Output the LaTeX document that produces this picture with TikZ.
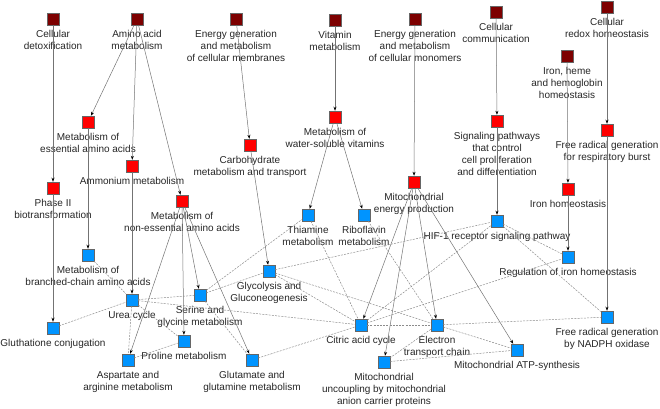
\documentclass[tikz,border=0pt]{standalone}
\usepackage{fontspec}
\setmainfont{Liberation Sans}
\usetikzlibrary{arrows.meta}
\definecolor{rootred}{RGB}{125,0,0}
\definecolor{groupred}{RGB}{255,0,0}
\definecolor{leafblue}{RGB}{0,148,255}
\begin{document}
\begin{tikzpicture}[x=1bp,y=-1bp,
  sq/.style={draw=black!60, line width=0.5bp, minimum size=12bp, inner sep=0pt},
  rootbox/.style={sq, fill=rootred},
  groupbox/.style={sq, fill=groupred},
  leafbox/.style={sq, fill=leafblue},
  every label/.style={align=center, inner sep=1bp, text=black!85, font=\fontsize{10bp}{12bp}\selectfont},
  label distance=3.5bp,
  isa/.style={draw=black!55, line width=0.5bp, -{Stealth[length=4bp,width=3bp,black]}},
  rel/.style={draw=black!45, line width=0.5bp, dash pattern=on 2bp off 1.2bp}]
\useasboundingbox (0,0) rectangle (660,408);
\node[rootbox, label=below:{Cellular\\detoxification}] (detox) at (53,19) {};
\node[rootbox, label=below:{Amino acid\\metabolism}] (amino) at (137,19) {};
\node[rootbox, label=below:{Energy generation\\and metabolism\\of cellular membranes}] (membr) at (236,19) {};
\node[rootbox, label=below:{Vitamin\\metabolism}] (vitam) at (335,20) {};
\node[rootbox, label=below:{Energy generation\\and metabolism\\of cellular monomers}] (monom) at (415,19) {};
\node[rootbox, label=below:{Cellular\\communication}] (commu) at (496,12) {};
\node[rootbox, label=below:{Cellular\\redox homeostasis}] (redox) at (607,7) {};
\node[rootbox, label=below:{Iron, heme\\and hemoglobin\\homeostasis}] (ironh) at (567,56) {};
\node[groupbox, label=below:{Metabolism of\\essential amino acids}] (essen) at (88,122) {};
\node[groupbox, label=below:{Phase II\\biotransformation}] (phase) at (53,188) {};
\node[groupbox, label=below:{Ammonium metabolism}] (ammon) at (132,166) {};
\node[groupbox, label=below:{Carbohydrate\\metabolism and transport}] (carbo) at (250,145) {};
\node[groupbox, label=below:{Metabolism of\\water-soluble vitamins}] (water) at (335,117) {};
\node[groupbox, label=below:{Mitochondrial\\energy production}] (mitoe) at (414,182) {};
\node[groupbox, label=below:{Signaling pathways\\that control\\cell proliferation\\and differentiation}] (signa) at (497,121) {};
\node[groupbox, label=below:{Free radical generation\\for respiratory burst}] (fresp) at (607,130) {};
\node[groupbox, label=below:{Iron homeostasis}] (ironm) at (568,189) {};
\node[groupbox, label=below:{Metabolism of\\non-essential amino acids}] (nones) at (182,201) {};
\node[leafbox, label=below:{Metabolism of\\branched-chain amino acids}] (branc) at (88,255) {};
\node[leafbox, label=below:{Thiamine\\metabolism}] (thiam) at (308,215) {};
\node[leafbox, label=below:{Riboflavin\\metabolism}] (ribof) at (364,215) {};
\node[leafbox, label=below:{HIF-1 receptor signaling pathway}] (hif) at (497,221) {};
\node[leafbox, label=below:{Glycolysis and\\Gluconeogenesis}] (glyco) at (269,271) {};
\node[leafbox, label=below:{Regulation of iron homeostasis}] (regir) at (568,257) {};
\node[leafbox, label=below:{Urea cycle}] (urea) at (132,300) {};
\node[leafbox, label=below:{Serine and\\glycine metabolism}] (serin) at (200,295) {};
\node[leafbox, label=below:{Gluthatione conjugation}] (gluth) at (53,328) {};
\node[leafbox, label=below:{Proline metabolism}] (proli) at (184,341) {};
\node[leafbox, label=below:{Citric acid cycle}] (citri) at (361,325) {};
\node[leafbox, label=below:{Electron\\transport chain}] (elect) at (437,325) {};
\node[leafbox, label=below:{Free radical generation\\by NADPH oxidase}] (nadph) at (607,317) {};
\node[leafbox, label=below:{Aspartate and\\arginine metabolism}] (aspar) at (128,360) {};
\node[leafbox, label=below:{Glutamate and\\glutamine metabolism}] (gluta) at (252,360) {};
\node[leafbox, label=below:{Mitochondrial\\uncoupling by mitochondrial\\anion carrier proteins}] (uncou) at (384,362) {};
\node[leafbox, label=below:{Mitochondrial ATP-synthesis}] (atpsy) at (517,350) {};
\draw[isa] (detox) -- (phase);
\draw[isa] (phase) -- (gluth);
\draw[isa] (amino) -- (essen);
\draw[isa] (amino) -- (ammon);
\draw[isa] (amino) -- (nones);
\draw[isa] (essen) -- (branc);
\draw[isa] (ammon) -- (urea);
\draw[isa] (nones) -- (aspar);
\draw[isa] (nones) -- (proli);
\draw[isa] (nones) -- (serin);
\draw[isa] (nones) -- (gluta);
\draw[isa] (membr) -- (carbo);
\draw[isa] (carbo) -- (glyco);
\draw[isa] (vitam) -- (water);
\draw[isa] (water) -- (thiam);
\draw[isa] (water) -- (ribof);
\draw[isa] (monom) -- (mitoe);
\draw[isa] (mitoe) -- (citri);
\draw[isa] (mitoe) -- (elect);
\draw[isa] (mitoe) -- (uncou);
\draw[isa] (mitoe) -- (atpsy);
\draw[isa] (commu) -- (signa);
\draw[isa] (signa) -- (hif);
\draw[isa] (ironh) -- (ironm);
\draw[isa] (ironm) -- (regir);
\draw[isa] (redox) -- (fresp);
\draw[isa] (fresp) -- (nadph);
\draw[rel] (branc) -- (urea);
\draw[rel] (gluth) -- (urea);
\draw[rel] (urea) -- (aspar);
\draw[rel] (urea) -- (proli);
\draw[rel] (urea) -- (serin);
\draw[rel] (urea) -- (citri);
\draw[rel] (aspar) -- (proli);
\draw[rel] (serin) -- (glyco);
\draw[rel] (serin) -- (thiam);
\draw[rel] (serin) -- (gluta);
\draw[rel] (thiam) -- (citri);
\draw[rel] (ribof) -- (elect);
\draw[rel] (glyco) -- (citri);
\draw[rel] (glyco) -- (elect);
\draw[rel] (glyco) -- (hif);
\draw[rel] (gluta) -- (citri);
\draw[rel] (citri) -- (elect);
\draw[rel] (citri) -- (hif);
\draw[rel] (citri) -- (regir);
\draw[rel] (hif) -- (regir);
\draw[rel] (hif) -- (nadph);
\draw[rel] (elect) -- (nadph);
\draw[rel] (elect) -- (atpsy);
\draw[rel] (elect) -- (uncou);
\draw[rel] (uncou) -- (atpsy);
\end{tikzpicture}
\end{document}
